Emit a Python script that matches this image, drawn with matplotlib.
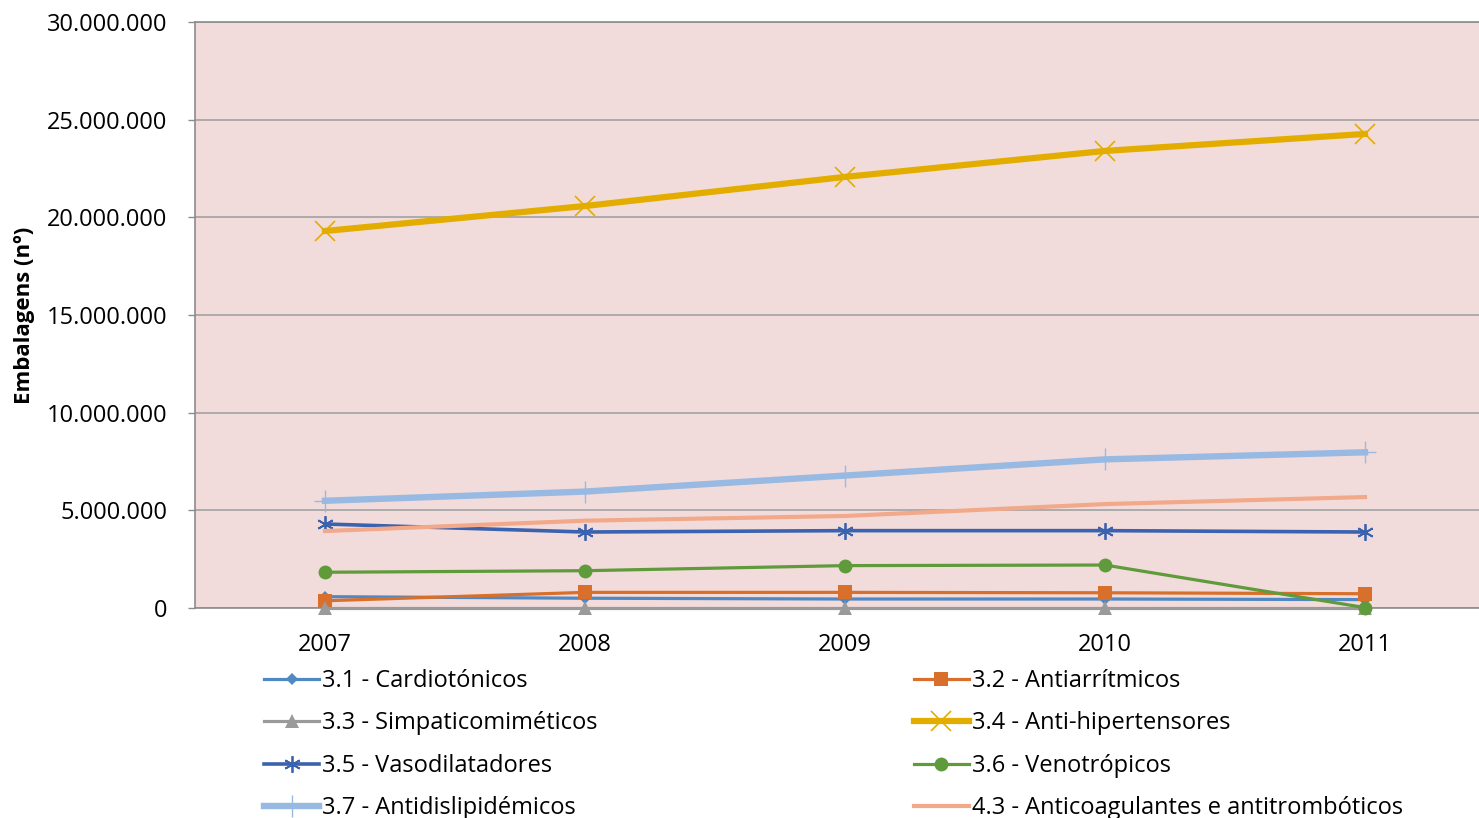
import matplotlib
matplotlib.use("Agg")
import matplotlib.pyplot as plt
from matplotlib.ticker import FuncFormatter

plt.rcParams['font.family'] = ['Open Sans', 'DejaVu Sans']

years = ["2007", "2008", "2009", "2010", "2011"]

cardiotonicos = [580000, 500000, 460000, 460000, 430000]
antiarritmicos = [370000, 800000, 800000, 780000, 730000]
simpaticomimeticos = [20000, 20000, 20000, 20000, 20000]
anti_hipertensores = [19300000, 20580000, 22070000, 23400000, 24270000]
vasodilatadores = [4300000, 3890000, 3960000, 3960000, 3890000]
venotropicos = [1830000, 1910000, 2170000, 2200000, 20000]
antidislipidemicos = [5490000, 5960000, 6780000, 7610000, 7970000]
anticoagulantes = [3940000, 4470000, 4710000, 5320000, 5680000]

labels = [
    "3.1 - Cardiotónicos", "3.2 - Antiarrítmicos", "3.3 - Simpaticomiméticos",
    "3.4 - Anti-hipertensores", "3.5 - Vasodilatadores", "3.6 - Venotrópicos",
    "3.7 - Antidislipidémicos", "4.3 - Anticoagulantes e antitrombóticos",
]
series = [cardiotonicos, antiarritmicos, simpaticomimeticos, anti_hipertensores,
          vasodilatadores, venotropicos, antidislipidemicos, anticoagulantes]

styles = [
    dict(color="#4F88C2", lw=2.3, marker="D", ms=6.5, mew=0),
    dict(color="#D86F2B", lw=2.3, marker="s", ms=9.5, mew=0),
    dict(color="#9A9A9A", lw=2.3, marker="^", ms=10, mew=0),
    dict(color="#E3AD00", lw=4.5, marker="x", ms=14, mew=1.2),
    dict(color="#3B62AE", lw=2.6, marker=(6, 2, 0), ms=12, mew=1.3),
    dict(color="#5F9A3B", lw=2.3, marker="o", ms=10, mew=0),
    dict(color="#98BAE2", lw=4.6, marker="+", ms=16, mew=1.0),
    dict(color="#F2A98A", lw=3.0, marker=None, ms=0, mew=0),
]

W, H = 1479, 818
fig = plt.figure(figsize=(W / 100, H / 100), dpi=100)
ax = fig.add_axes([195 / W, 1 - 608 / H, 1300 / W, 586 / H])
ax.set_facecolor("#F2DCDB")

x = list(range(len(years)))
lines = []
for vals, lab, st in zip(series, labels, styles):
    ln, = ax.plot(x, vals, color=st["color"], lw=st["lw"], marker=st["marker"],
                  markersize=st["ms"], markeredgewidth=st["mew"],
                  markeredgecolor=st["color"], markerfacecolor=st["color"],
                  label=lab, clip_on=False, zorder=3)
    lines.append(ln)

ax.set_xlim(-0.5, 4.5)
ax.set_ylim(0, 30000000)
ax.set_yticks(range(0, 30000001, 5000000))
ax.yaxis.set_major_formatter(FuncFormatter(lambda v, p: f"{int(v):,}".replace(",", ".")))
ax.set_xticks(x)
ax.set_xticklabels(years)
ax.tick_params(axis="x", length=0, labelsize=17, pad=18)
ax.tick_params(axis="y", length=5, width=1, color="#8C8C8C", labelsize=17, pad=15)
ax.yaxis.grid(True, color="#A6A6A6", lw=1.3, zorder=0)
ax.set_axisbelow(True)
for s in ax.spines.values():
    s.set_color("#8C8C8C")
    s.set_linewidth(1.2)

fig.text(25 / W, 1 - 315 / H, "Embalagens (nº)", rotation=90, fontsize=16,
         fontweight="bold", ha="center", va="center")

order = [0, 2, 4, 6, 1, 3, 5, 7]
leg = fig.legend([lines[i] for i in order], [labels[i] for i in order],
                 ncol=2, loc="upper left", bbox_to_anchor=(264 / W, 1 - 669 / H),
                 frameon=False, fontsize=17, handlelength=2.33, handletextpad=0.13,
                 labelspacing=0.78, columnspacing=13.4, borderaxespad=0, borderpad=0)

fig.savefig("out.png", dpi=100)
